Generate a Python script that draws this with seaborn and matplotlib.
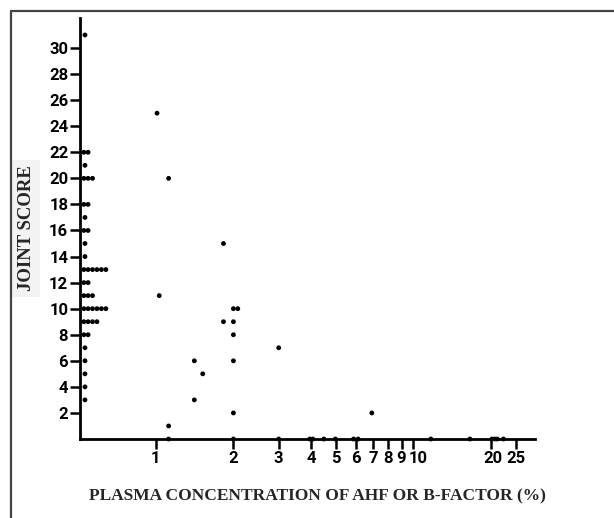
import matplotlib
matplotlib.use("Agg")
import matplotlib.pyplot as plt
import matplotlib.transforms as mtransforms
from matplotlib.lines import Line2D
import seaborn as sns
import pandas as pd

# patients with plasma level below 1 % (left column, stacked dots)
low_x = [0.53,
         0.525, 0.545,
         0.53,
         0.525, 0.545, 0.567,
         0.525, 0.545,
         0.53,
         0.525, 0.545,
         0.53,
         0.53,
         0.525, 0.545, 0.567, 0.590, 0.614, 0.639,
         0.525, 0.545,
         0.525, 0.545, 0.567,
         0.525, 0.545, 0.567, 0.590, 0.614, 0.639,
         0.525, 0.545, 0.567, 0.590,
         0.525, 0.545,
         0.53, 0.53, 0.53, 0.53, 0.53]
low_y = [31,
         22, 22,
         21,
         20, 20, 20,
         18, 18,
         17,
         16, 16,
         15,
         14,
         13, 13, 13, 13, 13, 13,
         12, 12,
         11, 11, 11,
         10, 10, 10, 10, 10, 10,
         9, 9, 9, 9,
         8, 8,
         7, 6, 5, 4, 3]

# patients with measurable plasma level
conc = [1.01, 1.03, 1.12, 1.12, 1.12, 1.41, 1.41, 1.52, 1.83, 1.83,
        2.0, 2.08, 2.0, 2.0, 2.0, 2.0, 2.0, 3.0, 3.0,
        3.96, 4.07, 4.49, 4.98, 5.86, 6.1, 6.9,
        11.7, 16.6, 20.2, 20.7, 21.2, 22.4]
score = [25, 11, 20, 1, 0, 6, 3, 5, 15, 9,
         10, 10, 9, 8, 6, 2, 0, 7, 0,
         0, 0, 0, 0, 0, 0, 2,
         0, 0, 0, 0, 0, 0]

x_ticks = [1, 2, 3, 4, 5, 6, 7, 8, 9, 10, 20, 25]
y_ticks = [2, 4, 6, 8, 10, 12, 14, 16, 18, 20, 22, 24, 26, 28, 30]

df = pd.DataFrame({"conc": low_x + conc, "score": low_y + score})

sns.set_style("ticks")
plt.rcParams["font.family"] = ["Roboto", "DejaVu Sans"]

fig = plt.figure(figsize=(6.14, 5.18), dpi=100)
ax = fig.add_axes([0.1303, 0.1525, 0.741, 0.8127])

sns.scatterplot(data=df, x="conc", y="score", ax=ax, color="black",
                s=12, edgecolor="none", clip_on=False, zorder=5)

ax.set_xscale("log")
ax.set_xlim(0.507, 29.7)
ax.set_ylim(0, 32.3)
ax.set_xticks(x_ticks)
ax.set_xticklabels([str(t) for t in x_ticks])
ax.xaxis.set_minor_locator(matplotlib.ticker.NullLocator())
ax.set_yticks(y_ticks)
ax.set_yticklabels([str(t) for t in y_ticks])

ax.tick_params(axis="both", which="major", length=7, width=1.8,
               labelsize=12, pad=1.5, colors="black")
for lab in ax.get_xticklabels() + ax.get_yticklabels():
    lab.set_fontweight("bold")

# the printed "10" and "20" sit a little right of their ticks
for lab in ax.get_xticklabels():
    if lab.get_text() in ("10", "20"):
        shift = 5 if lab.get_text() == "10" else 2
        lab.set_transform(lab.get_transform() + mtransforms.ScaledTranslation(
            shift / 100, 0, fig.dpi_scale_trans))

for side in ["top", "right"]:
    ax.spines[side].set_visible(False)
for side in ["left", "bottom"]:
    ax.spines[side].set_linewidth(2)
    ax.spines[side].set_color("black")

ax.set_xlabel("PLASMA CONCENTRATION OF AHF OR B-FACTOR (%)",
              fontfamily="Liberation Serif", fontweight="bold", fontsize=12.5)
ax.xaxis.set_label_coords(0.522, -0.118)
ax.set_ylabel("JOINT SCORE", fontfamily="Liberation Serif",
              fontweight="bold", fontsize=13.5,
              bbox=dict(facecolor="#f3f3f3", edgecolor="none", pad=4))
ax.yaxis.set_label_coords(-0.10, 0.5)

# outer frame (top and left edges of the scanned page)
fig.add_artist(Line2D([11 / 614, 1], [1 - 11 / 518, 1 - 11 / 518],
                      color="#444444", lw=1.6, transform=fig.transFigure))
fig.add_artist(Line2D([11 / 614, 11 / 614], [0, 1 - 11 / 518],
                      color="#444444", lw=1.6, transform=fig.transFigure))

fig.savefig("out.png", dpi=100)
